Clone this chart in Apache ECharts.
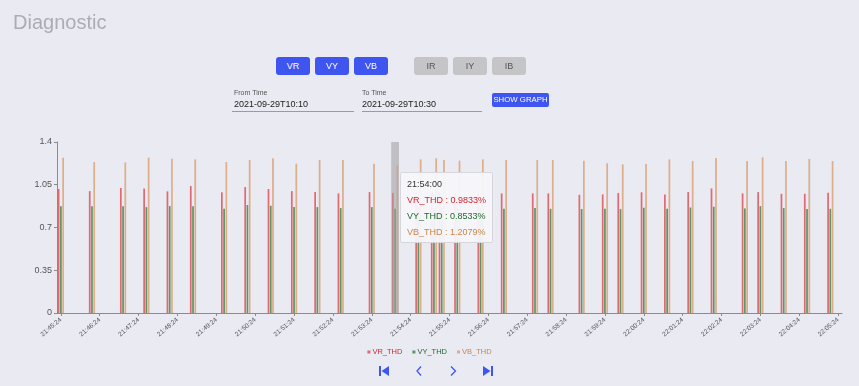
<!DOCTYPE html>
<html><head><meta charset="utf-8">
<script src="https://cdn.jsdelivr.net/npm/echarts@6/dist/echarts.min.js"></script>
<style>
html,body{margin:0;padding:0;width:859px;height:386px;background:#eaeaf2;overflow:hidden;font-family:'Liberation Sans',Arial,sans-serif;}
#chart{position:absolute;left:0;top:0;width:859px;height:386px;}
.ov{position:absolute;z-index:5;white-space:nowrap;}
.title{left:13px;top:10px;font-size:20px;color:#acacb2;line-height:24px;}
.btn{top:57px;height:18px;width:34px;border-radius:3px;font-size:9px;line-height:18px;text-align:center;}
.blue{background:#3f55ef;color:#fff;}
.gray{background:#c5c5c7;color:#555;}
.lbl{top:88px;font-size:7px;line-height:9px;color:#555;}
.val{top:98px;font-size:9px;line-height:12px;color:#222;}
.uline{top:111px;height:1px;background:#9a9aa0;}
.show{left:492px;top:93px;width:57px;height:14px;border-radius:2px;background:#3f55ef;color:#fff;font-size:7.8px;line-height:14px;text-align:center;padding:0;}
</style></head>
<body>
<div id="chart"></div>
<div class="ov title">Diagnostic</div>
<div class="ov btn blue" style="left:276px">VR</div>
<div class="ov btn blue" style="left:315px">VY</div>
<div class="ov btn blue" style="left:354px">VB</div>
<div class="ov btn gray" style="left:414px">IR</div>
<div class="ov btn gray" style="left:453px">IY</div>
<div class="ov btn gray" style="left:492px">IB</div>
<div class="ov lbl" style="left:234px">From Time</div>
<div class="ov val" style="left:234px">2021-09-29T10:10</div>
<div class="ov uline" style="left:232px;width:122px"></div>
<div class="ov lbl" style="left:362px">To Time</div>
<div class="ov val" style="left:362px">2021-09-29T10:30</div>
<div class="ov uline" style="left:362px;width:120px"></div>
<div class="ov show">SHOW GRAPH</div>
<svg class="ov" style="left:0;top:0" width="859" height="386">
  <g fill="#3f55ef" stroke="none">
    <rect x="379" y="366" width="2" height="10"/>
    <polygon points="389,366 389,376 381.5,371"/>
    <polygon points="483,366 483,376 490.5,371"/>
    <rect x="491" y="366" width="2" height="10"/>
  </g>
  <g fill="none" stroke="#3f55ef" stroke-width="1.3">
    <polyline points="421,366.5 417,371 421,375.5"/>
    <polyline points="451,366.5 455.5,371 451,375.5"/>
  </g>
</svg>
<script>
// category axis: one slot every 12 s
var categories = [
 '21:45:24','21:45:36','21:45:48',
 '21:46:00','21:46:12','21:46:24','21:46:36','21:46:48',
 '21:47:00','21:47:12','21:47:24','21:47:36','21:47:48',
 '21:48:00','21:48:12','21:48:24','21:48:36','21:48:48',
 '21:49:00','21:49:12','21:49:24','21:49:36','21:49:48',
 '21:50:00','21:50:12','21:50:24','21:50:36','21:50:48',
 '21:51:00','21:51:12','21:51:24','21:51:36','21:51:48',
 '21:52:00','21:52:12','21:52:24','21:52:36','21:52:48',
 '21:53:00','21:53:12','21:53:24','21:53:36','21:53:48',
 '21:54:00','21:54:12','21:54:24','21:54:36','21:54:48',
 '21:55:00','21:55:12','21:55:24','21:55:36','21:55:48',
 '21:56:00','21:56:12','21:56:24','21:56:36','21:56:48',
 '21:57:00','21:57:12','21:57:24','21:57:36','21:57:48',
 '21:58:00','21:58:12','21:58:24','21:58:36','21:58:48',
 '21:59:00','21:59:12','21:59:24','21:59:36','21:59:48',
 '22:00:00','22:00:12','22:00:24','22:00:36','22:00:48',
 '22:01:00','22:01:12','22:01:24','22:01:36','22:01:48',
 '22:02:00','22:02:12','22:02:24','22:02:36','22:02:48',
 '22:03:00','22:03:12','22:03:24','22:03:36','22:03:48',
 '22:04:00','22:04:12','22:04:24','22:04:36','22:04:48',
 '22:05:00','22:05:12','22:05:24'
];
var times = ['21:45:24','21:46:12','21:47:00','21:47:36','21:48:12','21:48:48','21:49:36','21:50:12','21:50:48','21:51:24','21:52:00','21:52:36','21:53:24','21:54:00','21:54:36','21:55:00','21:55:12','21:55:36','21:56:12','21:56:48','21:57:36','21:58:00','21:58:48','21:59:24','21:59:48','22:00:24','22:01:00','22:01:36','22:02:12','22:03:00','22:03:24','22:04:00','22:04:36','22:05:12'];
var vr = [1.015,0.998,1.023,1.020,0.996,1.039,0.988,1.031,1.015,0.998,0.990,0.979,0.990,0.9833,0.985,0.980,0.975,0.982,0.978,0.979,0.979,0.979,0.968,0.971,0.982,0.988,0.971,0.990,1.020,0.979,0.990,0.976,0.976,0.985];
var vy = [0.875,0.875,0.875,0.867,0.875,0.875,0.853,0.884,0.878,0.867,0.867,0.859,0.867,0.8533,0.860,0.858,0.855,0.857,0.856,0.853,0.859,0.853,0.851,0.853,0.851,0.862,0.853,0.864,0.870,0.856,0.875,0.859,0.851,0.853];
var vb = [1.272,1.236,1.233,1.272,1.263,1.258,1.236,1.253,1.267,1.222,1.253,1.253,1.222,1.2079,1.258,1.267,1.253,1.247,1.258,1.253,1.253,1.253,1.247,1.226,1.217,1.220,1.258,1.244,1.269,1.244,1.275,1.244,1.261,1.244];
var seriesNames = ['VR_THD','VY_THD','VB_THD'];
var barColors = ['#e06a74','#5c9663','#dcae8a'];
var textColors = ['#d0262d','#1f6b2a','#c8864a'];

var chart = echarts.init(document.getElementById('chart'));
function pairs(vals){ return times.map(function(t,i){ return [t, vals[i]]; }); }
var valueSets = [vr, vy, vb];
var fontFam = "'Liberation Sans', Arial, sans-serif";
chart.setOption({
  animation: false,
  backgroundColor: 'transparent',
  textStyle: {fontFamily: fontFam},
  grid: {left: 57, right: 17, top: 142, bottom: 73, containLabel: false, outerBoundsMode: 'none'},
  legend: {
    top: 343, left: 'center', itemWidth: 3, itemHeight: 3, itemGap: 10, icon: 'rect',
    textStyle: {fontSize: 7.5, fontFamily: fontFam, padding: [0,0,0,-3]},
    data: seriesNames.map(function(n,i){ return {name: n, textStyle: {color: textColors[i]}}; })
  },
  tooltip: {
    trigger: 'axis',
    alwaysShowContent: true,
    transitionDuration: 0,
    axisPointer: {type: 'shadow', shadowStyle: {color: 'rgba(150,150,150,0.5)'}},
    backgroundColor: 'rgba(246,246,250,0.95)',
    borderColor: '#d6d6dc', borderWidth: 1, padding: [5, 6, 2, 6],
    extraCssText: 'box-shadow:none;border-radius:2px;',
    position: function(){ return [400, 172]; },
    formatter: function(ps){
      var h = '<div style="font-family:Liberation Sans,Arial,sans-serif;font-size:9px;line-height:12px;">';
      h += '<div style="color:#333;margin-bottom:2px;">' + ps[0].axisValue + '</div>';
      ps.forEach(function(p){
        h += '<div style="color:' + textColors[p.seriesIndex] + ';line-height:16px;">' + p.seriesName + ' : ' + p.value[1] + '%</div>';
      });
      return h + '</div>';
    }
  },
  xAxis: {
    type: 'category', data: categories, boundaryGap: true,
    axisLine: {show: true, lineStyle: {color: '#8a8a90'}},
    axisTick: {show: true, alignWithLabel: true, interval: 4, length: 3, lineStyle: {color: '#8a8a90'}},
    axisLabel: {interval: 4, rotate: 40, fontSize: 6.5, color: '#555', margin: 6, fontFamily: fontFam},
    splitLine: {show: false}
  },
  yAxis: {
    type: 'value', min: 0, max: 1.4, interval: 0.35,
    axisLine: {show: true, lineStyle: {color: '#8a8a90'}},
    axisTick: {show: true, length: 3, lineStyle: {color: '#8a8a90'}},
    axisLabel: {fontSize: 9, color: '#555', margin: 5, fontFamily: fontFam},
    splitLine: {show: false}
  },
  series: seriesNames.map(function(n,i){
    return {name: n, type: 'bar', data: pairs(valueSets[i]), itemStyle: {color: barColors[i]}, barGap: '30%', barCategoryGap: '20%'};
  })
});
setTimeout(function(){ chart.dispatchAction({type: 'showTip', x: 395, y: 230}); }, 50);
</script>
</body></html>
